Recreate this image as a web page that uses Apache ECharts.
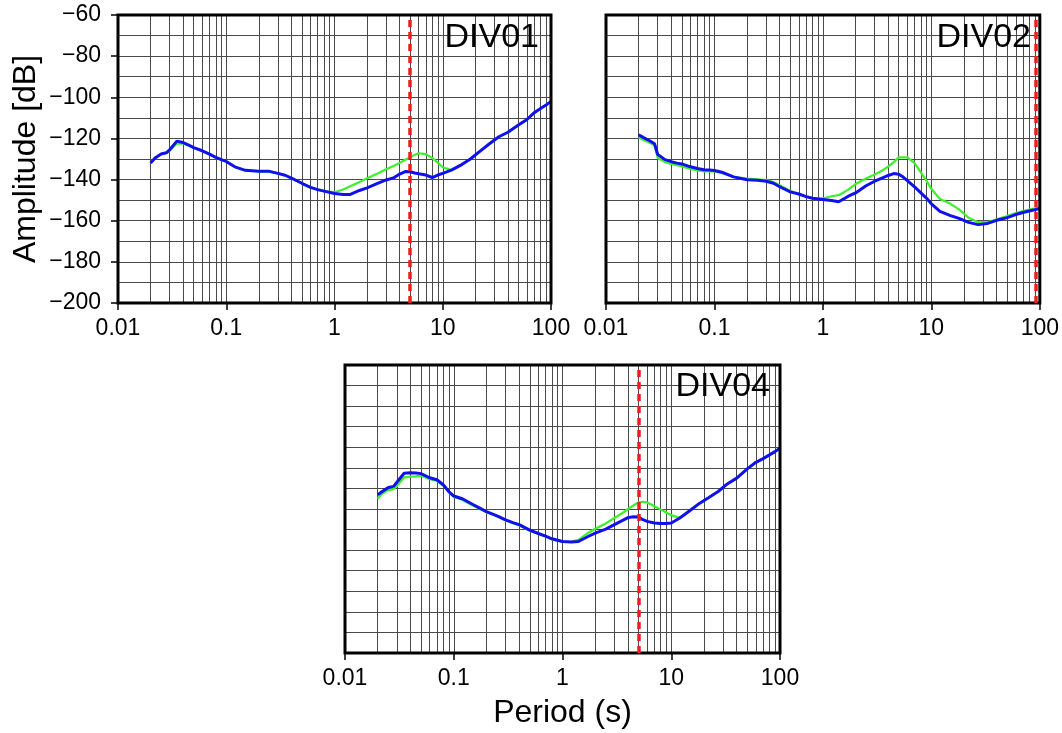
<!DOCTYPE html>
<html><head><meta charset="utf-8">
<script src="https://cdn.jsdelivr.net/npm/echarts@6/dist/echarts.min.js"></script>
<style>html,body{margin:0;padding:0;background:#fff}#c{width:1062px;height:733px}</style>
</head><body><div id="c"></div>
<script>
// Period values (s) shared by all curves
const periods = [0.02,0.022,0.025,0.028,0.03,0.035,0.04,0.045,0.05,0.06,0.07,0.08,0.09,0.1,0.12,0.15,0.2,0.25,0.3,0.35,0.4,0.5,0.6,0.7,0.8,1.0,1.2,1.4,1.7,2,2.5,3,3.5,4,4.5,5,5.5,6,7,8,9,10,12,15,18,22,27,33,40,50,60,70,80,90,100];

const div01Blue = [-132,-129.5,-127.6,-127,-125.5,-121.3,-122,-123.2,-124.5,-126,-127.6,-129.2,-130.3,-131.2,-133.8,-135.5,-136,-136,-137,-137.9,-139.3,-141.8,-143.8,-144.9,-145.6,-146.8,-147.2,-147.2,-145.3,-144,-141.9,-140.2,-139.2,-137.3,-136.1,-136.2,-136.8,-137.2,-137.8,-139,-137.8,-137,-135.4,-132.7,-130,-126.3,-122.6,-119.2,-117,-113.5,-110.8,-107.5,-105.5,-103.8,-102];
const div01Green = [-132,-129.5,-127.6,-127,-126,-122.5,-122.5,-123.5,-124.5,-126,-127.6,-129.2,-130.3,-131.2,-133.8,-135.5,-136,-136,-137,-137.9,-139.3,-141.8,-143.8,-144.9,-145.6,-146.2,-144.8,-143.2,-141.2,-139.4,-137,-135,-133.4,-131.9,-130.4,-129.2,-128,-127.2,-127.6,-129.6,-131.8,-134,-135.4,-132.7,-130,-126.3,-122.6,-119.2,-117,-113.5,-110.8,-107.5,-105.5,-103.8,-102];

const div02Blue = [-118.2,-119.5,-121,-122.6,-127.8,-130.3,-131.3,-132,-132.4,-133.8,-134.6,-135.2,-135.4,-135.6,-136.6,-138.7,-140.1,-140.3,-140.8,-141.8,-143.5,-146,-147,-148.3,-149.1,-149.7,-150.2,-150.8,-148.2,-146.5,-143,-140.8,-139.3,-138,-137.1,-137.4,-138.8,-140.5,-143.5,-146.5,-149,-151.8,-155.5,-157.5,-158.9,-160.8,-161.9,-161.3,-159.8,-158.5,-157,-156,-155.3,-154.7,-154];
const div02Green = [-119.4,-120.6,-122,-123.3,-129.5,-131.5,-132.4,-133,-133.6,-134.8,-135.5,-136,-136,-135.9,-137,-138.7,-139.5,-139.9,-140.3,-141.2,-142.7,-145.5,-147.2,-148.2,-148.9,-149.2,-148.1,-147.6,-145,-142.2,-139.5,-137.5,-135.7,-133.7,-131.5,-129.2,-129.2,-129.2,-132,-136.5,-140.5,-144.5,-149.5,-151.8,-154.5,-158.5,-160.7,-160.8,-159.3,-157.7,-156.3,-155.3,-154.6,-154,-153.5];

const div04Blue = [-123.1,-121.5,-119.5,-119,-117,-112.6,-112.4,-112.5,-112.8,-114.8,-115.8,-118.2,-121.5,-123.7,-125,-127.8,-131.3,-133.3,-135.3,-136.6,-137.6,-140.3,-141.9,-143.2,-144.5,-145.8,-146,-145.8,-143.5,-141.7,-139.8,-137.6,-135.8,-134.2,-133.8,-133.9,-135.2,-136,-136.8,-137,-137,-136.8,-134.4,-130.6,-127.4,-124.5,-121.5,-117.7,-115,-110.5,-107.3,-105.5,-103.7,-102.1,-100.5];
const div04Green = [-125,-122.5,-120.8,-120.3,-118.8,-114.6,-114.3,-114.1,-113.8,-115.5,-116.4,-118.6,-121.8,-124,-125.6,-128.3,-131.6,-133.5,-135.6,-136.9,-138,-140.6,-142.1,-143.4,-144.8,-146,-146,-145,-141.8,-139.6,-137,-134.4,-132.2,-130,-128.2,-126.8,-126.5,-126.8,-128.7,-130.3,-131.7,-133,-134.3,-130.6,-127.4,-124.5,-121.5,-117.7,-115,-110.5,-107.3,-105.5,-103.7,-102.1,-100.5];

const panelNames = ['DIV01','DIV02','DIV04'];
const greenSeries = [div01Green, div02Green, div04Green];
const blueSeries = [div01Blue, div02Blue, div04Blue];
const markerPeriods = [5, 92, 5];
const xRange = [0.01, 100];
const yRange = [-200, -60];
const yStep = 20;

const FONT = 'Liberation Sans, Arial, Helvetica, sans-serif';
const grids = [
  {left:118, top:15, width:433, height:288},
  {left:606, top:15, width:434, height:288},
  {left:345, top:365, width:435, height:288}
];
const titlePos = [
  {right:523, top:21},
  {right:31, top:21},
  {right:292, top:370}
];

// minor vertical gridlines at 2..9 x 10^k
const minorX = [];
for (let k = -2; k <= 1; k++) for (let m = 2; m <= 9; m++) minorX.push(+(m * Math.pow(10, k)).toPrecision(3));

const fmtX = v => String(+Number(v).toPrecision(4));
const fmtY = v => v < 0 ? '\u2212' + Math.abs(v) : String(v);
const GRIDC = '#4a4a4a';

const option = {
  animation: false,
  backgroundColor: '#fff',
  textStyle: {fontFamily: FONT},
  title: panelNames.map((n, i) => ({
    text: n, right: titlePos[i].right, top: titlePos[i].top, padding: 0,
    textStyle: {fontFamily: FONT, fontSize: 34, fontWeight: 'normal', color: '#000'}
  })),
  grid: grids.map(g => Object.assign({show: true, borderColor: '#000', borderWidth: 3, backgroundColor: 'transparent', z: 3}, g)),
  xAxis: grids.map((g, i) => ({
    type: 'log', logBase: 10, gridIndex: i, min: xRange[0], max: xRange[1],
    axisLine: {show: false},
    axisTick: {show: true, length: 7, lineStyle: {color: '#000', width: 1.5}},
    axisLabel: {show: true, formatter: fmtX, fontSize: 23, color: '#000', margin: 14, fontFamily: FONT},
    splitLine: {show: true, lineStyle: {color: GRIDC, width: 1}},
    name: i === 2 ? 'Period (s)' : '', nameLocation: 'middle', nameGap: 44,
    nameTextStyle: {fontSize: 32, color: '#000', fontFamily: FONT}
  })),
  yAxis: grids.map((g, i) => ({
    type: 'value', gridIndex: i, min: yRange[0], max: yRange[1], interval: yStep,
    axisLine: {show: false},
    axisTick: {show: i === 0, length: 7, lineStyle: {color: '#000', width: 1.5}},
    axisLabel: {show: i === 0, formatter: fmtY, fontSize: 23, color: '#000', margin: 17, fontFamily: FONT},
    splitLine: {show: true, lineStyle: {color: GRIDC, width: 1}},
    minorTick: {show: false, splitNumber: 2},
    minorSplitLine: {show: true, lineStyle: {color: GRIDC, width: 1}},
    name: i === 0 ? 'Amplitude [dB]' : '', nameLocation: 'middle', nameRotate: 90, nameGap: 76,
    nameTextStyle: {fontSize: 32, color: '#000', fontFamily: FONT}
  })),
  series: []
};

const mkLine = (vals, style, z) => ({
  symbol: ['none', 'none'], silent: true, animation: false,
  label: {show: false}, emphasis: {disabled: true},
  lineStyle: style, z: z,
  data: vals.map(v => ({xAxis: v}))
});

for (let i = 0; i < 3; i++) {
  option.series.push({
    type: 'line', xAxisIndex: i, yAxisIndex: i, data: [], z: 1, silent: true,
    markLine: mkLine(minorX, {color: GRIDC, width: 1, type: 'solid'}, 1)
  });
  option.series.push({
    type: 'line', xAxisIndex: i, yAxisIndex: i, z: 2, symbol: 'none', silent: true,
    lineStyle: {color: '#3cf02a', width: 2.2},
    data: periods.map((p, j) => [p, greenSeries[i][j]])
  });
  option.series.push({
    type: 'line', xAxisIndex: i, yAxisIndex: i, z: 2, symbol: 'none', silent: true,
    lineStyle: {color: '#1010ee', width: 3},
    data: periods.map((p, j) => [p, blueSeries[i][j]])
  });
  option.series.push({
    type: 'line', xAxisIndex: i, yAxisIndex: i, data: [], z: 5, silent: true,
    markLine: mkLine([markerPeriods[i]], {color: '#f01c1c', width: 3.5, type: [7, 5]}, 5)
  });
}

const chart = echarts.init(document.getElementById('c'), null, {renderer: 'canvas'});
chart.setOption(option);
</script>
</body></html>
